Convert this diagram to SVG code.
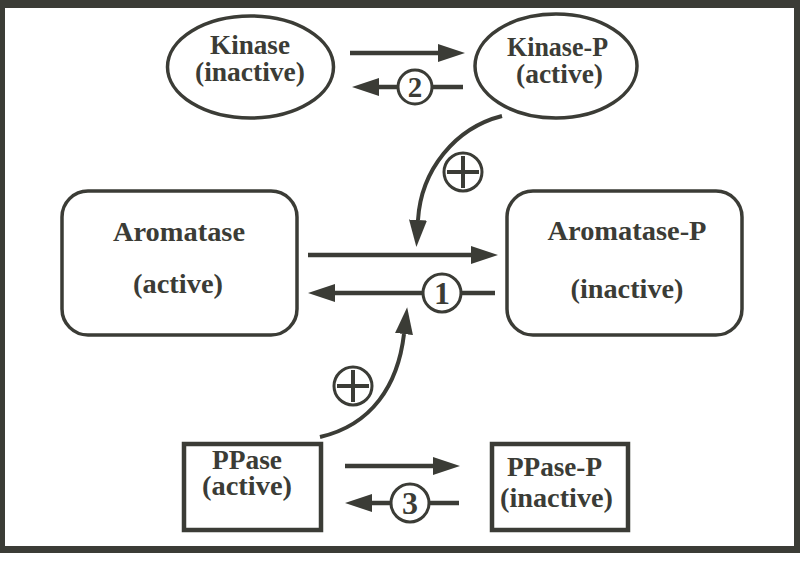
<svg xmlns="http://www.w3.org/2000/svg" width="800" height="579" viewBox="0 0 800 579">
<defs>
<style>
.ln{stroke:#3b3c36;stroke-width:4.5;fill:none}
.nd{stroke:#3b3c36;stroke-width:3.5;fill:#fff}
.bx{stroke:#3b3c36;stroke-width:4.5;fill:#fff}
.cc{stroke:#3b3c36;stroke-width:3;fill:#fff}
.t{font-family:"Liberation Serif","Times New Roman",serif;font-weight:bold;fill:#3b3c36;text-anchor:middle}
</style>
<marker id="ah" viewBox="0 0 27 18" refX="0" refY="9" markerWidth="27" markerHeight="18" markerUnits="userSpaceOnUse" orient="auto">
<path d="M0,0 L27,9 L0,18 z" fill="#3b3c36"/>
</marker>
</defs>
<rect x="0" y="0" width="800" height="579" fill="#fff"/>
<rect x="0" y="0" width="800" height="553" fill="#3b3c36"/>
<rect x="5" y="8" width="789" height="538" fill="#fff"/>

<g id="connectors">
<line class="ln" x1="350" y1="53" x2="438" y2="53" marker-end="url(#ah)"/>
<line class="ln" x1="463" y1="87" x2="379" y2="87" marker-end="url(#ah)"/>
<line class="ln" x1="308" y1="255" x2="471" y2="255" marker-end="url(#ah)"/>
<line class="ln" x1="495" y1="293" x2="335" y2="293" marker-end="url(#ah)"/>
<line class="ln" x1="345" y1="466" x2="433" y2="466" marker-end="url(#ah)"/>
<line class="ln" x1="459" y1="503" x2="372" y2="503" marker-end="url(#ah)"/>
<path class="ln" style="stroke-width:4" d="M502,116 C455,128 421,170 418,220" marker-end="url(#ah)"/>
<path class="ln" style="stroke-width:4" d="M320,437 C372,425 398,385 404,334" marker-end="url(#ah)"/>
<g id="c2"><circle class="cc" cx="415" cy="87" r="17"/><text class="t" x="415" y="97" font-size="29">2</text></g>
<g id="c1"><circle class="cc" cx="442" cy="293" r="19"/><text class="t" x="442" y="304" font-size="32">1</text></g>
<g id="c3"><circle class="cc" cx="410" cy="503" r="19"/><text class="t" x="410" y="514" font-size="32">3</text></g>
<g id="p1"><circle class="cc" cx="463" cy="172" r="19"/><path class="ln" style="stroke-width:4" d="M447,172 H479 M463,156 V188"/></g>
<g id="p2"><circle class="cc" cx="353" cy="386" r="19"/><path class="ln" style="stroke-width:4" d="M337,386 H369 M353,370 V402"/></g>
</g>

<g id="kinase">
<ellipse class="nd" cx="250.5" cy="67" rx="83" ry="51"/>
<text class="t" x="250" y="54" font-size="27" textLength="80" lengthAdjust="spacingAndGlyphs">Kinase</text>
<text class="t" x="250" y="81" font-size="27" textLength="110" lengthAdjust="spacingAndGlyphs">(inactive)</text>
</g>
<g id="kinase-p">
<ellipse class="nd" cx="556" cy="66" rx="81" ry="52"/>
<text class="t" x="557.5" y="56" font-size="27" textLength="101" lengthAdjust="spacingAndGlyphs">Kinase-P</text>
<text class="t" x="559.5" y="83" font-size="27" textLength="87" lengthAdjust="spacingAndGlyphs">(active)</text>
</g>
<g id="aromatase">
<rect class="nd" x="62" y="191" width="235" height="144" rx="26"/>
<text class="t" x="179" y="241" font-size="28" textLength="132" lengthAdjust="spacingAndGlyphs">Aromatase</text>
<text class="t" x="178" y="293" font-size="28" textLength="90" lengthAdjust="spacingAndGlyphs">(active)</text>
</g>
<g id="aromatase-p">
<rect class="nd" x="507" y="191" width="235" height="144" rx="26"/>
<text class="t" x="627" y="240" font-size="28" textLength="159" lengthAdjust="spacingAndGlyphs">Aromatase-P</text>
<text class="t" x="627" y="298" font-size="28" textLength="113" lengthAdjust="spacingAndGlyphs">(inactive)</text>
</g>
<g id="ppase">
<rect class="bx" x="184" y="444" width="137" height="86"/>
<text class="t" x="247" y="469" font-size="27" textLength="70" lengthAdjust="spacingAndGlyphs">PPase</text>
<text class="t" x="247" y="495" font-size="27" textLength="90" lengthAdjust="spacingAndGlyphs">(active)</text>
</g>
<g id="ppase-p">
<rect class="bx" x="492" y="444" width="136" height="86"/>
<text class="t" x="554.5" y="476" font-size="27" textLength="95" lengthAdjust="spacingAndGlyphs">PPase-P</text>
<text class="t" x="556.5" y="507" font-size="27" textLength="113" lengthAdjust="spacingAndGlyphs">(inactive)</text>
</g>
</svg>
